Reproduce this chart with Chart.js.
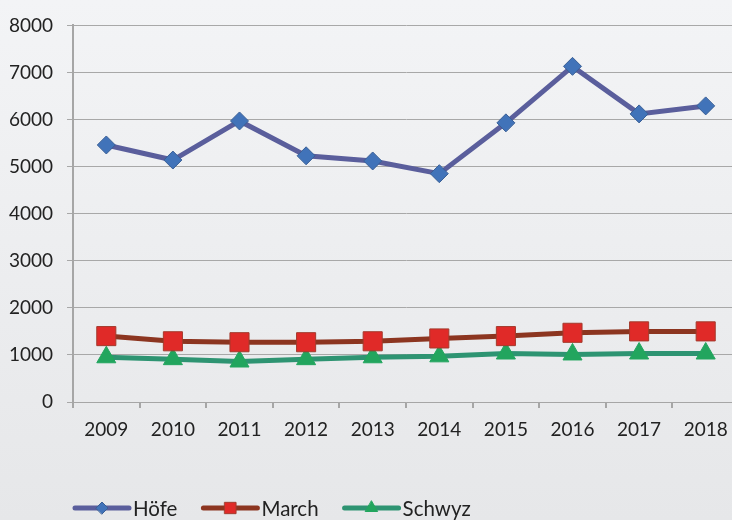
<!DOCTYPE html>
<html>
<head>
<meta charset="utf-8">
<script src="https://cdn.jsdelivr.net/npm/chart.js@4/dist/chart.umd.min.js"></script>
<style>
  html, body { margin: 0; padding: 0; overflow: hidden; }
  body { width: 732px; height: 520px; background: linear-gradient(#f3f4f6, #e6e7e9); }
  #chart { display: block; }
</style>
</head>
<body>
<canvas id="chart" width="740" height="520"></canvas>
<script>
// ------------------- Data -------------------//
var years = ['2009', '2010', '2011', '2012', '2013', '2014', '2015', '2016', '2017', '2018'];
var hoefe = [5460, 5140, 5970, 5230, 5120, 4850, 5930, 7130, 6120, 6290];
var march = [1400, 1290, 1270, 1270, 1290, 1350, 1400, 1470, 1500, 1500];
var schwyz = [950, 910, 860, 910, 950, 970, 1030, 1010, 1030, 1030];
var yTicks = [0, 1000, 2000, 3000, 4000, 5000, 6000, 7000, 8000];

var font = 'Lato, "Noto Sans", sans-serif';

// ------------------- Legend drawn at the bottom -------------------//
var bottomLegend = {
  id: 'bottomLegend',
  afterDraw: function(chart) {
    var ctx = chart.ctx;
    var x = 75, y = 508;
    ctx.save();
    ctx.font = '20.5px ' + font;
    ctx.textBaseline = 'middle';
    chart.data.datasets.forEach(function(ds) {
      ctx.strokeStyle = ds.borderColor;
      ctx.lineWidth = 5;
      ctx.lineCap = 'round';
      ctx.beginPath();
      ctx.moveTo(x, y);
      ctx.lineTo(x + 54, y);
      ctx.stroke();
      ctx.fillStyle = ds.pointBackgroundColor;
      ctx.strokeStyle = ds.pointBorderColor;
      ctx.lineWidth = 1;
      Chart.helpers.drawPoint(ctx, { pointStyle: ds.pointStyle, radius: ds.legendRadius, borderWidth: 1 }, x + 27, y);
      ctx.fillStyle = '#222222';
      ctx.fillText(ds.label, x + 58, y + 1);
      x += 58 + ctx.measureText(ds.label).width + 26;
    });
    ctx.restore();
  }
};

var ctx = document.getElementById('chart');
var myChart = new Chart(ctx, {
  type: 'line',
  data: {
    labels: years,
    datasets: [{
      label: 'Höfe',
      data: hoefe,
      borderColor: '#5a5e9c',
      borderWidth: 5,
      pointStyle: 'rectRot',
      pointRadius: 9,
      pointBackgroundColor: '#4173b9',
      pointBorderColor: '#3a5f95',
      pointBorderWidth: 1,
      legendRadius: 6
    }, {
      label: 'March',
      data: march,
      borderColor: '#8c3520',
      borderWidth: 5,
      pointStyle: 'rect',
      pointRadius: 13.5,
      pointBackgroundColor: '#e02a28',
      pointBorderColor: '#a33a2c',
      pointBorderWidth: 1,
      legendRadius: 8
    }, {
      label: 'Schwyz',
      data: schwyz,
      borderColor: '#2e9472',
      borderWidth: 5,
      pointStyle: 'triangle',
      pointRadius: 11,
      pointBackgroundColor: '#22a55e',
      pointBorderColor: '#22a55e',
      pointBorderWidth: 1,
      legendRadius: 7
    }]
  },
  options: {
    responsive: false,
    animation: false,
    layout: { autoPadding: false, padding: { top: 24, left: 0, right: 1, bottom: 0 } },
    plugins: {
      legend: { display: false },
      tooltip: { enabled: false }
    },
    scales: {
      x: {
        offset: true,
        grid: { offset: true, drawOnChartArea: false, drawTicks: true, tickLength: 6, color: '#a6a6a6', lineWidth: 2 },
        border: { color: '#a6a6a6', width: 1 },
        ticks: { color: '#222222', font: { family: font, size: 19 }, padding: 10, maxRotation: 0 },
        afterFit: function(scale) { scale.height = 118; }
      },
      y: {
        min: 0,
        max: 8000,
        afterBuildTicks: function(scale) {
          scale.ticks = yTicks.map(function(v) { return { value: v }; });
        },
        grid: { color: '#a8a8a8', lineWidth: 1, tickLength: 6 },
        border: { color: '#a6a6a6', width: 2 },
        ticks: {
          color: '#222222',
          font: { family: font, size: 19 },
          padding: 14,
          callback: function(v) { return String(v); }
        },
        afterFit: function(scale) { scale.width = 73; }
      }
    }
  },
  plugins: [bottomLegend]
});
</script>
</body>
</html>
